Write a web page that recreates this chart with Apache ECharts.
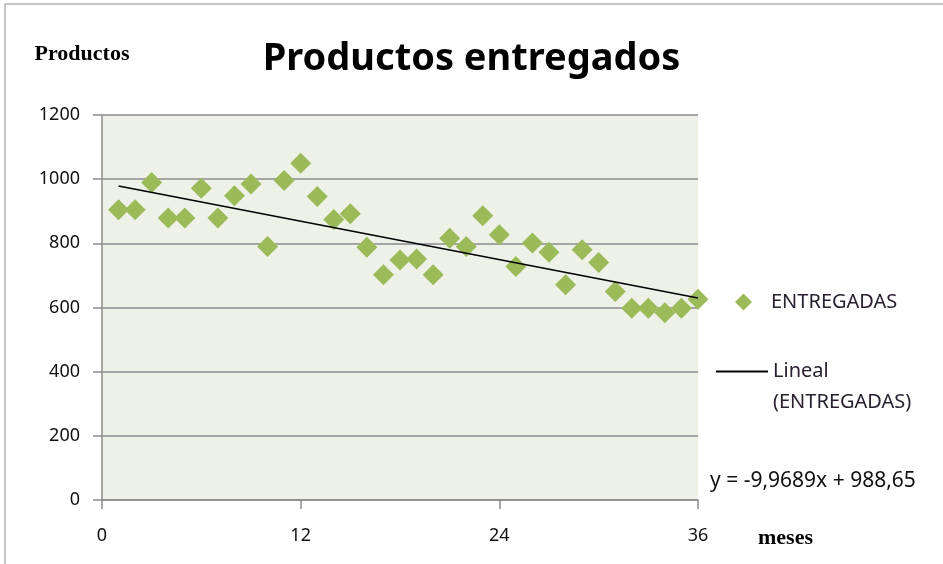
<!DOCTYPE html>
<html style="height: 100%">
<head>
    <meta charset="utf-8">
</head>
<body style="height: 100%; margin: 0; background: #fff">
<div id="container" style="width: 943px; height: 564px"></div>
<script type="text/javascript" src="https://cdn.jsdelivr.net/npm/echarts@6/dist/echarts.min.js"></script>
<script type="text/javascript">
    // meses 1..36 y productos entregados
    var meses = [1, 2, 3, 4, 5, 6, 7, 8, 9, 10, 11, 12, 13, 14, 15, 16, 17, 18,
        19, 20, 21, 22, 23, 24, 25, 26, 27, 28, 29, 30, 31, 32, 33, 34, 35, 36];
    var entregadas = [905, 905, 990, 879, 879, 972, 879, 948, 985, 790, 996, 1050,
        946, 874, 892, 788, 702, 748, 751, 702, 816, 790, 886, 827,
        728, 801, 772, 671, 780, 740, 650, 598, 598, 584, 598, 626];
    // extremos de la linea de tendencia
    var tendenciaX = [1, 36];
    var tendenciaY = [978.7, 629.8];
    var xTicks = [0, 12, 24, 36];
    var yTicks = [0, 200, 400, 600, 800, 1000, 1200];
    var ecuacion = 'y = -9,9689x + 988,65';

    var dom = document.getElementById("container");
    var myChart = echarts.init(dom);
    var option;

    var scatterData = meses.map(function (m, i) { return [m, entregadas[i]]; });
    var lineData = tendenciaX.map(function (m, i) { return [m, tendenciaY[i]]; });

    var gridColor = '#8c8c8c';

    option = {
        animation: false,
        backgroundColor: '#fff',
        textStyle: {fontFamily: 'Noto Sans'},
        title: {
            text: 'Productos entregados',
            left: 'center',
            top: 35,
            textStyle: {fontSize: 38, fontWeight: 'bold', color: '#000', fontFamily: 'Noto Sans'}
        },
        grid: {
            left: 102,
            right: 245,
            top: 115,
            bottom: 64,
            show: true,
            backgroundColor: '#eef1e8',
            borderWidth: 0
        },
        xAxis: {
            type: 'value',
            min: xTicks[0],
            max: xTicks[xTicks.length - 1],
            interval: 12,
            axisLine: {show: true, lineStyle: {color: gridColor, width: 1.5}},
            axisTick: {show: true, length: 9, lineStyle: {color: gridColor, width: 1.5}},
            axisLabel: {margin: 27, fontSize: 18, color: '#111'},
            splitLine: {show: false}
        },
        yAxis: {
            type: 'value',
            min: yTicks[0],
            max: yTicks[yTicks.length - 1],
            interval: 200,
            name: 'Productos',
            nameLocation: 'end',
            nameGap: 50,
            nameTextStyle: {
                fontFamily: 'Liberation Serif', fontWeight: 'bold', fontSize: 22,
                color: '#000', align: 'center', padding: [0, 40, 0, 0]
            },
            axisLine: {show: true, lineStyle: {color: gridColor, width: 1.5}},
            axisTick: {show: true, length: 9, lineStyle: {color: gridColor, width: 1.5}},
            axisLabel: {margin: 22, fontSize: 18, color: '#111', formatter: function (v) { return String(v); }},
            splitLine: {show: true, lineStyle: {color: gridColor, width: 1.5}}
        },
        legend: [{
            data: ['ENTREGADAS'],
            left: 730,
            top: 287,
            icon: 'diamond',
            itemWidth: 17,
            itemHeight: 17,
            textStyle: {fontSize: 20, color: '#2a2030', padding: [0, 0, 0, 14]}
        }, {
            data: ['Lineal (ENTREGADAS)'],
            left: 711,
            top: 320,
            itemWidth: 52,
            itemHeight: 2,
            icon: 'rect',
            formatter: function () { return '\nLineal\n(ENTREGADAS)'; },
            textStyle: {fontSize: 20, color: '#2a2030', lineHeight: 31}
        }],
        graphic: [{
            type: 'rect',
            shape: {x: 5, y: 4, width: 960, height: 600},
            style: {fill: 'none', stroke: '#b4b4b4', lineWidth: 1.5},
            silent: true
        }, {
            type: 'text',
            left: 710,
            top: 471,
            style: {text: ecuacion, fontSize: 21, fill: '#111', fontFamily: 'Noto Sans'}
        }, {
            type: 'text',
            left: 758,
            top: 527,
            style: {text: 'meses', fontSize: 22, fontWeight: 'bold', fill: '#000', fontFamily: 'Liberation Serif'}
        }],
        series: [{
            type: 'scatter',
            name: 'ENTREGADAS',
            data: scatterData,
            symbol: 'diamond',
            symbolSize: 21,
            itemStyle: {color: '#9bbb59', opacity: 1},
            z: 2
        }, {
            type: 'line',
            name: 'Lineal (ENTREGADAS)',
            data: lineData,
            showSymbol: false,
            symbol: 'none',
            lineStyle: {color: '#000', width: 1.5},
            itemStyle: {color: '#000'},
            z: 3
        }]
    };
    if (option && typeof option === 'object') {
        myChart.setOption(option);
    }
</script>
</body>
</html>
